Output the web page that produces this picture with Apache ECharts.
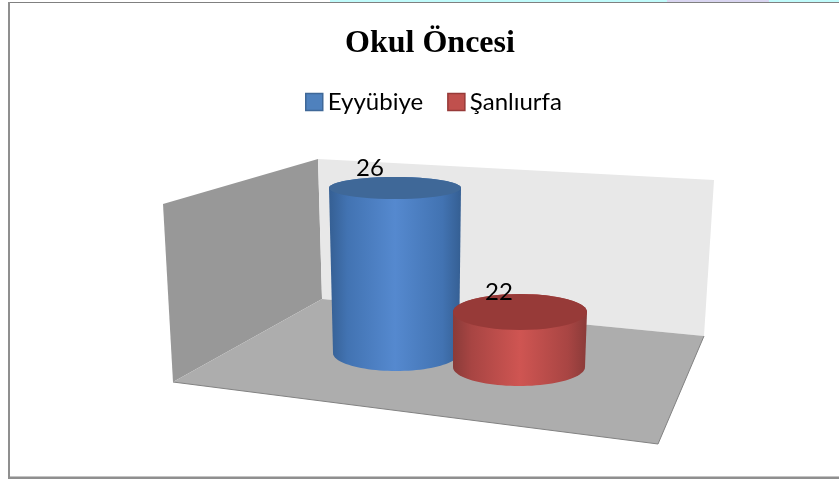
<!DOCTYPE html>
<html>
<head>
<meta charset="utf-8">
<title>Okul Öncesi</title>
<script src="https://cdn.jsdelivr.net/npm/echarts@6/dist/echarts.min.js"></script>
<style>
html, body { margin: 0; padding: 0; background: #fff; }
#main { width: 839px; height: 479px; }
</style>
</head>
<body>
<div id="main"></div>
<script>
const chartTitle = 'Okul Öncesi';
const seriesNames = ['Eyyübiye', 'Şanlıurfa'];
const seriesValues = [26, 22];

// hidden value axis, column chart starts at 20
const axisMin = 20;
const axisMax = 26;

const looks = [
    { edge: '#355f93', near: '#4273b2', mid: '#5589cf', top: '#3f6898', legend: '#4f81bd', legendBorder: '#3f6898', baseRx: 63, topRx: 66, baseRy: 18, topRy: 11, labelDx: -25 },
    { edge: '#8a3b39', near: '#a84543', mid: '#cf5552', top: '#973a38', legend: '#c0504d', legendBorder: '#973a38', baseRx: 66, topRx: 67, baseRy: 19, topRy: 18, labelDx: -21 }
];
// floor runs downhill to the right, px per px
const floorSlope = 14 / 124;
const firstCenterX = 396;

function arcPoints(cx, cy, rx, ry, from, to) {
    const pts = [];
    for (let i = 0; i <= 48; i++) {
        const a = from + (to - from) * i / 48;
        pts.push([cx + rx * Math.cos(a), cy + ry * Math.sin(a)]);
    }
    return pts;
}

function renderCylinder(params, api) {
    const idx = api.value(0);
    const look = looks[idx];
    const base = api.coord([idx, axisMin]);
    const head = api.coord([idx, api.value(1)]);
    const tilt = (base[0] - firstCenterX) * floorSlope;
    const baseX = base[0] - (idx === 1 ? 1 : 0);
    const topX = base[0] - (idx === 0 ? 1 : 0);
    const baseY = base[1] + tilt;
    const topY = head[1] + tilt;

    const side = arcPoints(baseX, baseY, look.baseRx, look.baseRy, 0, Math.PI)
        .concat(arcPoints(topX, topY, look.topRx, look.topRy, Math.PI, 2 * Math.PI));

    return {
        type: 'group',
        children: [
            {
                type: 'polygon',
                shape: { points: side },
                style: {
                    fill: new echarts.graphic.LinearGradient(0, 0, 1, 0, [
                        { offset: 0, color: look.edge },
                        { offset: 0.14, color: look.near },
                        { offset: 0.5, color: look.mid },
                        { offset: 0.86, color: look.near },
                        { offset: 1, color: look.edge }
                    ])
                }
            },
            {
                type: 'polygon',
                shape: { points: arcPoints(topX, topY, look.topRx, look.topRy, 0, 2 * Math.PI) },
                style: { fill: look.top }
            },
            {
                type: 'text',
                x: topX + look.labelDx,
                y: topY - 20,
                style: {
                    text: String(api.value(1)),
                    fill: '#000',
                    font: '24px Lato',
                    align: 'center',
                    verticalAlign: 'middle'
                }
            }
        ]
    };
}

const chart = echarts.init(document.getElementById('main'), null, { renderer: 'canvas' });

chart.setOption({
    animation: false,
    backgroundColor: '#fff',
    title: {
        text: chartTitle,
        left: 425,
        top: 23,
        textAlign: 'center',
        textStyle: { fontFamily: 'Liberation Serif', fontWeight: 'bold', fontSize: 32, color: '#000' }
    },
    legend: {
        left: 300,
        top: 85,
        itemWidth: 17,
        itemHeight: 17,
        itemGap: 24,
        icon: 'rect',
        textStyle: { fontFamily: 'Lato', fontSize: 24, color: '#000' },
        data: seriesNames.map((name, i) => ({
            name,
            itemStyle: { color: looks[i].legend, borderColor: looks[i].legendBorder, borderWidth: 1.5 }
        }))
    },
    grid: { left: 334, width: 248, top: 188, height: 165 },
    xAxis: { type: 'category', data: seriesNames, show: false },
    yAxis: { type: 'value', min: axisMin, max: axisMax, show: false },
    series: seriesNames.map((name, i) => ({
        name,
        type: 'custom',
        renderItem: renderCylinder,
        itemStyle: { color: looks[i].legend },
        encode: { x: 0, y: 1 },
        data: [[i, seriesValues[i]]]
    })),
    graphic: [
        // page strip and frame
        { type: 'rect', z: 0, shape: { x: 330, y: 0, width: 509, height: 2 }, style: { fill: '#c0fbfb' } },
        { type: 'rect', z: 0, shape: { x: 667, y: 0, width: 102, height: 2 }, style: { fill: '#d9d5f0' } },
        { type: 'rect', z: 0, shape: { x: 8, y: 2, width: 831, height: 1 }, style: { fill: '#808080' } },
        { type: 'rect', z: 0, shape: { x: 8, y: 2, width: 2, height: 475 }, style: { fill: '#8f8f8f' } },
        { type: 'rect', z: 0, shape: { x: 10, y: 476, width: 829, height: 1 }, style: { fill: '#c4c4c4' } },
        { type: 'rect', z: 0, shape: { x: 8, y: 477, width: 831, height: 2 }, style: { fill: '#8f8f8f' } },
        // walls and floor
        { type: 'polygon', z: 0, shape: { points: [[163, 204], [318, 159], [322, 299], [173, 382]] }, style: { fill: '#989898' } },
        { type: 'polygon', z: 0, shape: { points: [[318, 159], [714, 180], [704, 336], [322, 299]] }, style: { fill: '#e8e8e8' } },
        { type: 'polygon', z: 0, shape: { points: [[322, 299], [704, 336], [658, 444], [173, 382]] }, style: { fill: '#adadad' } },
        { type: 'polyline', z: 0, shape: { points: [[173, 382], [658, 444], [704, 336]] }, style: { fill: null, stroke: '#828282', lineWidth: 1 } }
    ]
});
</script>
</body>
</html>
